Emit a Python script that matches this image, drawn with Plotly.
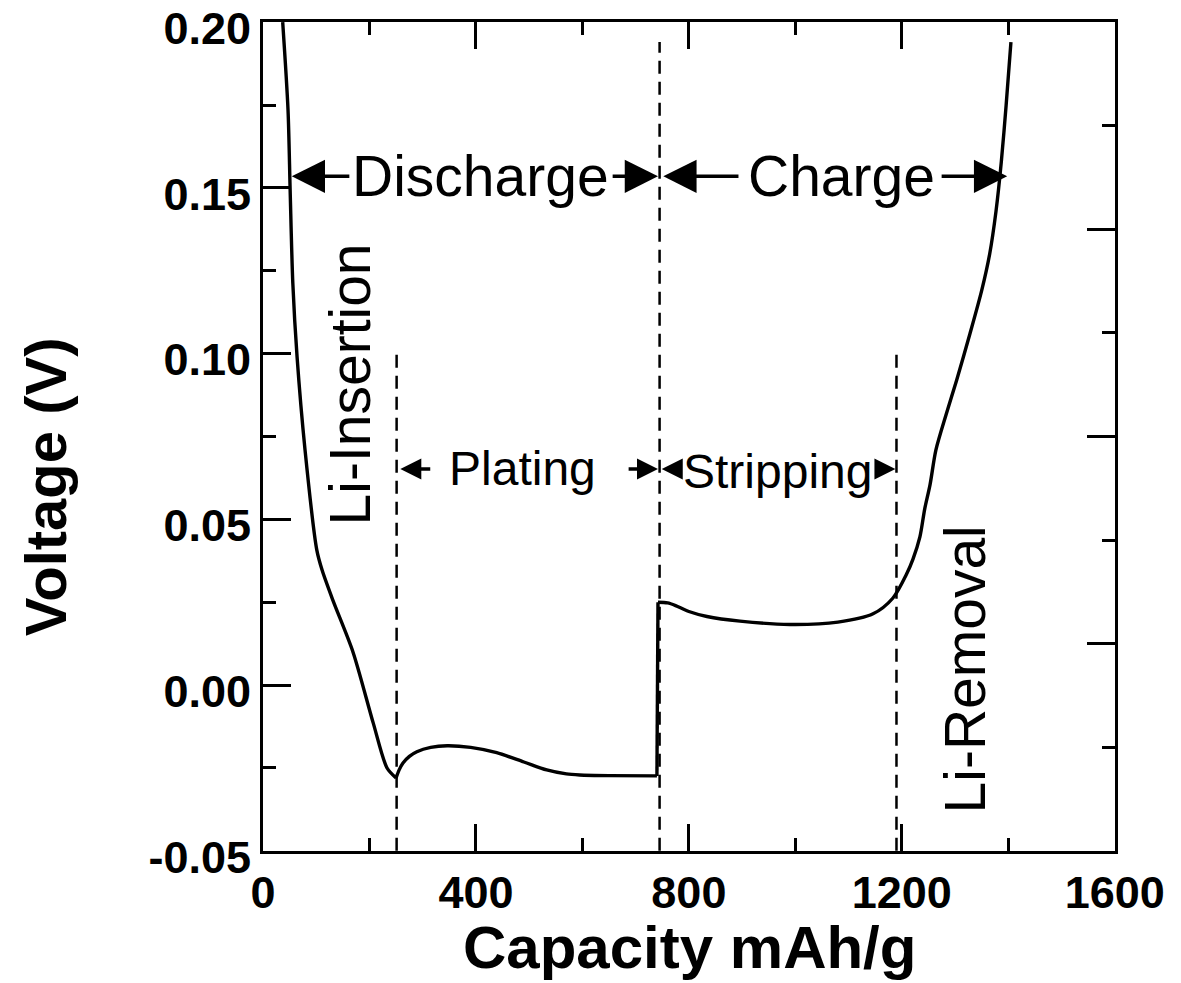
import plotly.graph_objects as go

# ---------------- data ----------------
discharge_capacity = [37, 47, 51, 56, 64, 79, 101, 111, 131, 169, 207, 233, 250,
                      256, 263, 275, 289, 315, 346, 390, 439, 490, 533, 570, 595, 650, 740]
discharge_voltage = [0.200, 0.1735, 0.1493, 0.1213, 0.0990, 0.0709, 0.0408, 0.0347, 0.0257,
                     0.0100, -0.0114, -0.0250, -0.0280,
                     -0.0255, -0.0235, -0.0215, -0.0201, -0.0188, -0.0183, -0.0188, -0.0204,
                     -0.0232, -0.0256, -0.0268, -0.0271, -0.0273, -0.0274]

charge_capacity = [740, 742, 760, 775, 800, 834, 896, 990, 1080, 1146, 1183, 1209, 1221,
                   1234, 1243, 1253, 1264, 1283, 1303, 1328, 1350, 1365, 1377, 1387, 1396, 1405]
charge_voltage = [-0.0274, 0.0250, 0.0248, 0.0240, 0.0222, 0.0207, 0.0193, 0.0183, 0.0190,
                  0.0215, 0.0262, 0.0335, 0.0380, 0.0447, 0.0531, 0.0604, 0.0709, 0.0815,
                  0.0920, 0.1060, 0.1190, 0.1300, 0.1430, 0.1580, 0.1750, 0.1940]

plating_onset = 250      # capacity where Li plating begins (curve minimum)
stripping_onset = 742    # capacity where the charge plateau begins

# boundary (dashed) markers
boundary_capacity = [251, 745, 1190]
boundary_top = [0.1005, 0.194, 0.101]
boundary_bottom = -0.05

x_tick_vals = [0, 400, 800, 1200, 1600]
x_tick_text = ["0", "400", "800", "1200", "1600"]
y_tick_vals = [-0.05, 0.00, 0.05, 0.10, 0.15, 0.20]
y_tick_text = ["-0.05", "0.00", "0.05", "0.10", "0.15", "0.20"]

# region labels: text, capacity, voltage, size, angle
region_labels = [
    ("Discharge", 409, 0.1535, 57, 0),
    ("Charge", 1087, 0.1535, 57, 0),
    ("Plating", 488, 0.0652, 48, 0),
    ("Stripping", 967, 0.0645, 48, 0),
    ("Li-Insertion", 164, 0.0908, 57, -90),
    ("Li-Removal", 1318, 0.0046, 57, -90),
]
# arrows: (tail capacity, head capacity, voltage, size)
region_arrows = [
    (165, 54, 0.1535, 1.9),
    (654, 742, 0.1535, 1.9),
    (896, 752, 0.1535, 1.9),
    (1272, 1398, 0.1535, 1.9),
    (317, 258, 0.0652, 1.2),
    (684, 742, 0.0652, 1.2),
    (787, 749, 0.0652, 1.2),
    (1160, 1188, 0.0652, 1.2),
]

FONT = "Liberation Sans"

fig = go.Figure()

for cx, top in zip(boundary_capacity, boundary_top):
    fig.add_trace(go.Scatter(
        x=[cx, cx], y=[boundary_bottom, top], mode="lines",
        line=dict(color="black", width=2.5, dash="13px,8px"),
        showlegend=False, hoverinfo="skip"))

i_pl = discharge_capacity.index(plating_onset)
i_st = charge_capacity.index(stripping_onset)
segments = [
    (discharge_capacity[:i_pl + 1], discharge_voltage[:i_pl + 1], "spline"),
    (discharge_capacity[i_pl:], discharge_voltage[i_pl:], "spline"),
    (charge_capacity[:i_st + 1], charge_voltage[:i_st + 1], "linear"),
    (charge_capacity[i_st:], charge_voltage[i_st:], "spline"),
]
for xs, ys, shape in segments:
    fig.add_trace(go.Scatter(
        x=xs, y=ys, mode="lines",
        line=dict(color="black", width=3.4, shape=shape, smoothing=0.8),
        showlegend=False))

# invisible trace to activate right-side secondary axis ticks
fig.add_trace(go.Scatter(x=[0], y=[0], yaxis="y2", mode="markers",
                         marker=dict(opacity=0), showlegend=False, hoverinfo="skip"))

for text, cx, v, size, ang in region_labels:
    fig.add_annotation(x=cx, y=v, xref="x", yref="y", text=text, showarrow=False,
                       textangle=ang, font=dict(family=FONT, size=size, color="black"),
                       xanchor="center", yanchor="middle")

for tail, head, v, size in region_arrows:
    fig.add_annotation(x=head, y=v, ax=tail, ay=v, xref="x", yref="y",
                       axref="x", ayref="y", text="", showarrow=True,
                       arrowhead=2, arrowsize=size, arrowwidth=3.5, arrowcolor="black")

# axis titles
fig.add_annotation(x=0.5, y=-0.117, xref="paper", yref="paper", text="Capacity mAh/g",
                   showarrow=False, xanchor="center", yanchor="middle",
                   font=dict(family=FONT, size=60, color="black", weight="bold"))
fig.add_annotation(x=-0.256, y=0.44, xref="paper", yref="paper", text="Voltage (V)",
                   showarrow=False, xanchor="center", yanchor="middle", textangle=-90,
                   font=dict(family=FONT, size=58, color="black", weight="bold"))

tickfont_y = dict(family=FONT, size=45, color="black", weight="bold")
tickfont_x = dict(family=FONT, size=45, color="black", weight="bold")

fig.update_layout(
    width=1181, height=983,
    margin=dict(l=263, r=66, t=22, b=132),
    paper_bgcolor="white", plot_bgcolor="white",
    showlegend=False,
    xaxis=dict(range=[0, 1600.5], showgrid=False, zeroline=False,
               showline=True, linecolor="black", linewidth=3, mirror="ticks",
               ticks="inside", ticklen=27, tickwidth=3, tickcolor="black",
               tickmode="array", tickvals=x_tick_vals, ticktext=x_tick_text,
               tickfont=tickfont_x, automargin=False, ticklabeloverflow="allow",
               minor=dict(dtick=200, tick0=0, ticks="inside", ticklen=13,
                          tickwidth=3, tickcolor="black")),
    yaxis=dict(range=[-0.05005, 0.20005], showgrid=False, zeroline=False,
               showline=True, linecolor="black", linewidth=3, mirror=True,
               ticks="inside", ticklen=28, tickwidth=3, tickcolor="black",
               tickmode="array", tickvals=y_tick_vals, ticktext=y_tick_text,
               tickfont=tickfont_y, automargin=False, ticklabeloverflow="allow",
               ticklabelshift=6,
               minor=dict(dtick=0.025, tick0=0, ticks="inside", ticklen=13,
                          tickwidth=3, tickcolor="black")),
    yaxis2=dict(range=[0, 8], overlaying="y", side="right", showgrid=False,
                zeroline=False, showline=False, showticklabels=False,
                ticks="inside", ticklen=28, tickwidth=3, tickcolor="black",
                tickmode="linear", tick0=0, dtick=2, automargin=False,
                minor=dict(dtick=1, tick0=0, ticks="inside", ticklen=13,
                           tickwidth=3, tickcolor="black")),
)

fig.write_html("out.html", config={"displayModeBar": False},
               post_script="document.body.style.margin='0px';")
